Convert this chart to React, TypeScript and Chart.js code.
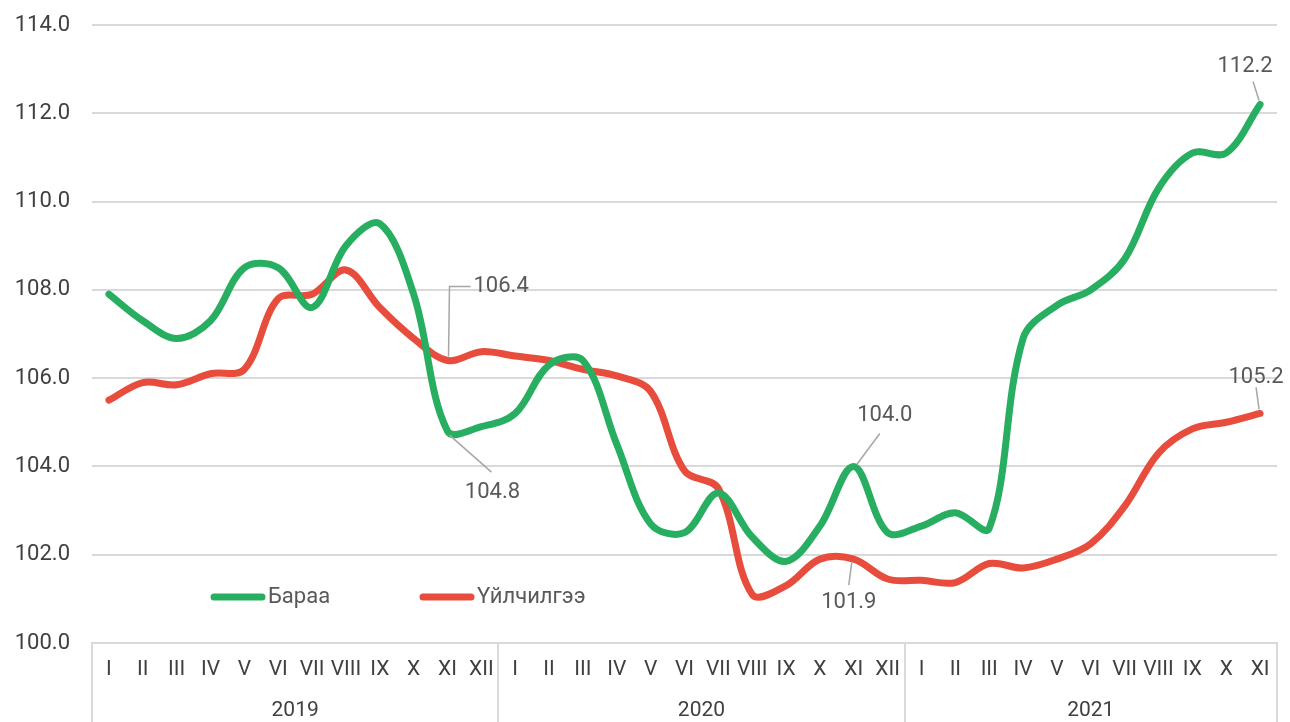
import React, { useEffect, useRef } from "react";
import { Chart, registerables } from "chart.js";

Chart.register(...registerables);

// ---------- data ----------
const monthNames = ["I", "II", "III", "IV", "V", "VI", "VII", "VIII", "IX", "X", "XI", "XII"];
const years = ["2019", "2020", "2021"];
const monthsPerYear = [12, 12, 11];

const goodsLabel = "Бараа";
const servicesLabel = "Үйлчилгээ";

const goodsValues = [
  107.9, 107.3, 106.9, 107.3, 108.5, 108.5, 107.6, 109.0, 109.5, 107.9, 104.8, 104.9,
  105.2, 106.3, 106.4, 104.5, 102.7, 102.5, 103.4, 102.4, 101.85, 102.65, 104.0, 102.5,
  102.65, 102.95, 102.6, 106.9, 107.65, 108.0, 108.7, 110.3, 111.1, 111.1, 112.2,
];

const servicesValues = [
  105.5, 105.9, 105.85, 106.1, 106.2, 107.8, 107.9, 108.45, 107.6, 106.9, 106.4, 106.6,
  106.5, 106.4, 106.2, 106.05, 105.7, 103.9, 103.5, 101.1, 101.3, 101.9, 101.9, 101.45,
  101.42, 101.37, 101.8, 101.7, 101.9, 102.25, 103.1, 104.3, 104.85, 105.0, 105.2,
];

const yMin = 100;
const yMax = 114;
const yStep = 2;

// data points that carry a value label: [dataset index, point index]
const labelledPoints: [number, number][] = [
  [1, 10],
  [0, 10],
  [0, 22],
  [1, 22],
  [0, 34],
  [1, 34],
];

// ---------- derived ----------
const categories: string[] = [];
monthsPerYear.forEach((n) => {
  for (let i = 0; i < n; i++) categories.push(monthNames[i]);
});

// ---------- styles ----------
const GREEN = "#27AE60";
const RED = "#E74C3C";
const GRID = "#D9D9D9";
const AXIS_TEXT = "#404040";
const LABEL_TEXT = "#595959";
const LEADER = "#A6A6A6";
const FONT = "Roboto, 'Noto Sans', sans-serif";

// leader-line / text offsets (pixels) for each labelled point, same order as labelledPoints
const labelStyles = [
  { path: [[1, -4], [2, -74], [23, -74]], text: [26, -74], align: "left" },
  { path: [[2, 4], [44, 41]], text: [45, 61], align: "center" },
  { path: [[3, -2], [26, -33]], text: [31, -51], align: "center" },
  { path: [[-2, 3], [-5, 26]], text: [-5, 43], align: "center" },
  { path: [[-1, -4], [-7, -23]], text: [-15, -38], align: "center" },
  { path: [[-1, -4], [-4, -26]], text: [-4, -36], align: "center" },
];

const overlayPlugin = {
  id: "overlay",
  afterDraw(chart: any) {
    const ctx = chart.ctx as CanvasRenderingContext2D;
    const x = chart.scales.x;
    const area = chart.chartArea;
    ctx.save();

    // year separators
    ctx.strokeStyle = GRID;
    ctx.lineWidth = 2;
    let start = 0;
    const bounds = [-0.5];
    monthsPerYear.forEach((n) => {
      start += n;
      bounds.push(start - 0.5);
    });
    bounds.forEach((b) => {
      const px = Math.round(x.getPixelForValue(b));
      ctx.beginPath();
      ctx.moveTo(px, area.bottom);
      ctx.lineTo(px, chart.height);
      ctx.stroke();
    });

    // year labels
    ctx.fillStyle = AXIS_TEXT;
    ctx.font = `21px ${FONT}`;
    ctx.textAlign = "center";
    ctx.textBaseline = "middle";
    start = 0;
    years.forEach((yr, i) => {
      const mid = start + (monthsPerYear[i] - 1) / 2;
      ctx.fillText(yr, x.getPixelForValue(mid), area.bottom + 68);
      start += monthsPerYear[i];
    });

    // value labels with leader lines
    ctx.font = `22px ${FONT}`;
    labelledPoints.forEach(([ds, idx], k) => {
      const el = chart.getDatasetMeta(ds).data[idx];
      const st = labelStyles[k];
      const px = el.x;
      const py = el.y;
      ctx.strokeStyle = LEADER;
      ctx.lineWidth = 1.5;
      ctx.beginPath();
      st.path.forEach(([dx, dy], j) => {
        if (j === 0) ctx.moveTo(px + dx, py + dy);
        else ctx.lineTo(px + dx, py + dy);
      });
      ctx.stroke();
      const v = chart.data.datasets[ds].data[idx] as number;
      ctx.fillStyle = LABEL_TEXT;
      ctx.textAlign = st.align as CanvasTextAlign;
      ctx.textBaseline = "middle";
      ctx.fillText(v.toFixed(1), px + st.text[0], py + st.text[1]);
    });

    // legend inside plot area
    const ly = area.bottom - 46;
    const items = [
      { color: GREEN, text: chart.data.datasets[0].label, x0: area.left + 118 },
      { color: RED, text: chart.data.datasets[1].label, x0: area.left + 327 },
    ];
    items.forEach((it) => {
      ctx.strokeStyle = it.color;
      ctx.lineWidth = 7;
      ctx.lineCap = "round";
      ctx.beginPath();
      ctx.moveTo(it.x0 + 4, ly);
      ctx.lineTo(it.x0 + 52, ly);
      ctx.stroke();
      ctx.fillStyle = LABEL_TEXT;
      ctx.textAlign = "left";
      ctx.textBaseline = "middle";
      ctx.font = `22px ${FONT}`;
      ctx.fillText(it.text, it.x0 + 58, ly);
    });

    ctx.restore();
  },
};

export default function App() {
  const canvasRef = useRef<HTMLCanvasElement | null>(null);

  useEffect(() => {
    if (!canvasRef.current) return;
    const chart = new Chart(canvasRef.current, {
      type: "line",
      data: {
        labels: categories,
        datasets: [
          {
            label: goodsLabel,
            data: goodsValues,
            borderColor: GREEN,
            backgroundColor: GREEN,
            borderWidth: 7,
            pointRadius: 0,
            tension: 0.35,
            borderCapStyle: "round",
            borderJoinStyle: "round",
            fill: false,
          },
          {
            label: servicesLabel,
            data: servicesValues,
            borderColor: RED,
            backgroundColor: RED,
            borderWidth: 7,
            pointRadius: 0,
            tension: 0.35,
            borderCapStyle: "round",
            borderJoinStyle: "round",
            fill: false,
          },
        ],
      },
      options: {
        responsive: false,
        devicePixelRatio: 1,
        animation: false,
        layout: { padding: { top: 25, right: 13, left: 0, bottom: 0 } },
        plugins: {
          legend: { display: false },
          tooltip: { enabled: false },
        },
        scales: {
          x: {
            type: "category",
            offset: true,
            grid: { display: false, drawTicks: false },
            border: { display: true, color: GRID, width: 2 },
            ticks: {
              autoSkip: false,
              maxRotation: 0,
              minRotation: 0,
              padding: 14,
              color: AXIS_TEXT,
              font: { family: FONT, size: 21 },
            },
            afterFit: (scale: any) => {
              scale.height = 79;
            },
          },
          y: {
            min: yMin,
            max: yMax,
            ticks: {
              stepSize: yStep,
              padding: 22,
              color: AXIS_TEXT,
              font: { family: FONT, size: 22 },
              callback: (v: any) => Number(v).toFixed(1),
            },
            grid: { color: GRID, lineWidth: 2, drawTicks: false },
            border: { display: false },
            afterFit: (scale: any) => {
              scale.width = 92;
              scale.paddingTop = 0;
              scale.paddingBottom = 0;
            },
          },
        },
      },
      plugins: [overlayPlugin],
    });
    return () => chart.destroy();
  }, []);

  return (
    <div style={{ position: "fixed", left: 0, top: 0, width: 1290, height: 722, background: "#fff" }}>
      <canvas ref={canvasRef} width={1290} height={722} style={{ display: "block" }} />
    </div>
  );
}
